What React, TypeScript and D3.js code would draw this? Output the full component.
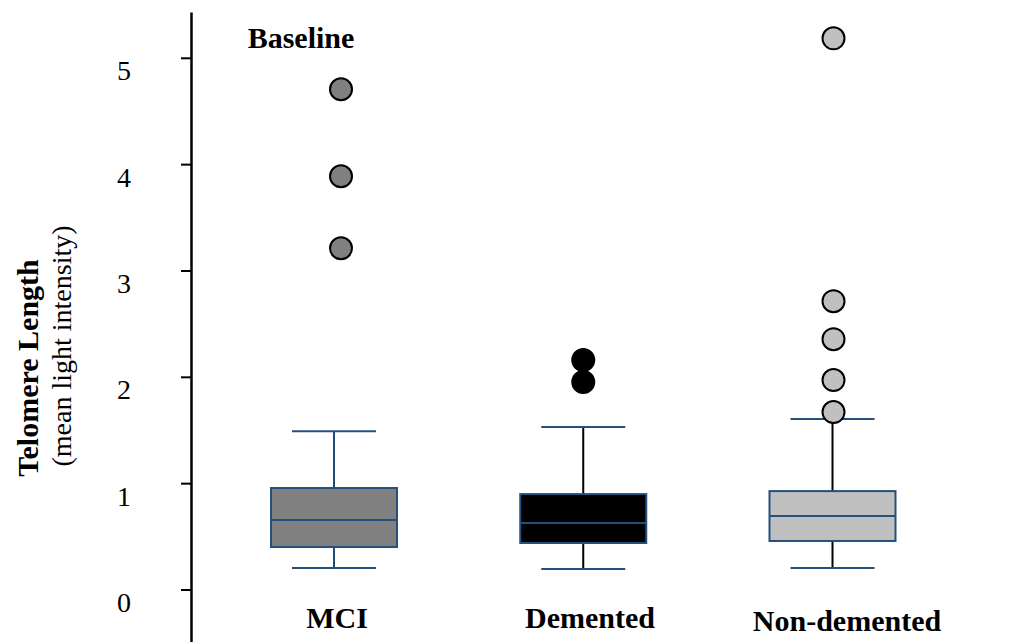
import React from "react";
import * as d3 from "d3";

const categories = ["MCI", "Demented", "Non-demented"];
const q1 = [0.404, 0.442, 0.461];
const medians = [0.658, 0.63, 0.695];
const q3 = [0.959, 0.902, 0.93];
const whiskerLow = [0.207, 0.197, 0.207];
const whiskerHigh = [1.494, 1.532, 1.607];
const outliers = [
  [4.709, 3.891, 3.214],
  [2.162, 1.955],
  [5.188, 2.716, 2.359, 1.974, 1.673],
];
const fills = ["#808080", "#000000", "#c0c0c0"];
const whiskerColors = ["#1f4a78", "#000000", "#000000"];
const outlierDx = [7, 0, 1];
const yTicks = [0, 1, 2, 3, 4, 5];

const W = 1009;
const H = 642;
const BLUE = "#24507e";
const FONT = "'Liberation Serif', 'Times New Roman', serif";

export default function App() {
  const y = d3.scaleLinear().domain([0, 5]).range([590, 58.3]);
  const x = d3.scalePoint<string>().domain(categories).range([334, 832.5]);
  const boxW = 126;
  const capW = 84;
  const axisX = 191.5;

  return (
    <svg
      width={W}
      height={H}
      style={{ position: "absolute", left: 0, top: 0, background: "#fff" }}
      fontFamily={FONT}
    >
      {/* axis */}
      <line x1={axisX} x2={axisX} y1={12.5} y2={H} stroke="#000" strokeWidth={2.5} />
      {yTicks.map((t) => (
        <g key={t}>
          <line x1={181} x2={axisX} y1={y(t)} y2={y(t)} stroke="#000" strokeWidth={2} />
          <text x={124} y={y(t) + 22} textAnchor="middle" fontSize={28}>
            {t}
          </text>
        </g>
      ))}

      {/* y title */}
      <text
        transform={`translate(38,368) rotate(-90)`}
        textAnchor="middle"
        fontSize={30}
        fontWeight="bold"
      >
        Telomere Length
      </text>
      <text transform={`translate(71,346) rotate(-90)`} textAnchor="middle" fontSize={28}>
        (mean light intensity)
      </text>

      <text x={301} y={48} textAnchor="middle" fontSize={30} fontWeight="bold">
        Baseline
      </text>

      {categories.map((c, i) => {
        const cx = x(c) as number;
        return (
          <g key={c}>
            {/* whiskers */}
            <line x1={cx} x2={cx} y1={y(whiskerHigh[i])} y2={y(q3[i])} stroke={whiskerColors[i]} strokeWidth={2} />
            <line x1={cx} x2={cx} y1={y(q1[i])} y2={y(whiskerLow[i])} stroke={whiskerColors[i]} strokeWidth={2} />
            <line x1={cx - capW / 2} x2={cx + capW / 2} y1={y(whiskerHigh[i])} y2={y(whiskerHigh[i])} stroke={BLUE} strokeWidth={2} />
            <line x1={cx - capW / 2} x2={cx + capW / 2} y1={y(whiskerLow[i])} y2={y(whiskerLow[i])} stroke={BLUE} strokeWidth={2} />
            {/* box */}
            <rect
              x={cx - boxW / 2}
              y={y(q3[i])}
              width={boxW}
              height={y(q1[i]) - y(q3[i])}
              fill={fills[i]}
              stroke={BLUE}
              strokeWidth={2}
            />
            <line x1={cx - boxW / 2} x2={cx + boxW / 2} y1={y(medians[i])} y2={y(medians[i])} stroke={BLUE} strokeWidth={2} />
            {/* outliers */}
            {outliers[i].map((v, j) => (
              <circle key={j} cx={cx + outlierDx[i]} cy={y(v)} r={11} fill={fills[i]} stroke="#000" strokeWidth={2} />
            ))}
          </g>
        );
      })}

      {/* category labels */}
      <text x={337} y={628} textAnchor="middle" fontSize={30} fontWeight="bold">MCI</text>
      <text x={590} y={628} textAnchor="middle" fontSize={30} fontWeight="bold">Demented</text>
      <text x={847} y={631} textAnchor="middle" fontSize={30} fontWeight="bold">Non-demented</text>
    </svg>
  );
}
